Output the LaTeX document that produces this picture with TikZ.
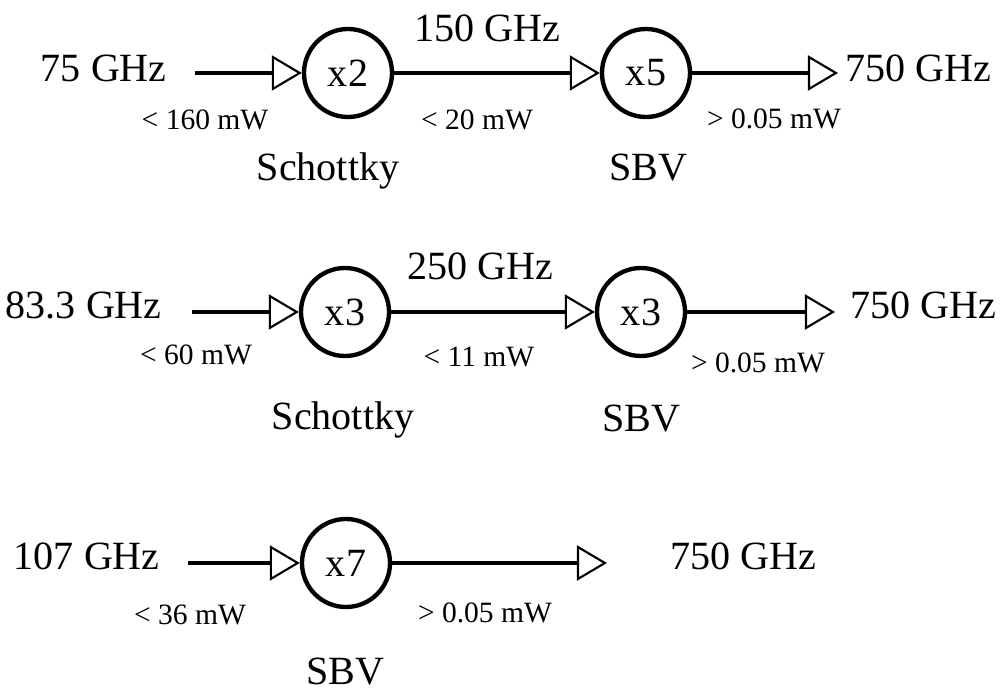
\documentclass[tikz,border=0pt]{standalone}
\usepackage{fontspec}
\setmainfont{Liberation Serif}
\usetikzlibrary{arrows.meta, positioning}
\tikzset{
  mult/.style={circle, draw, line width=3.1pt, minimum size=2.2cm, inner sep=0pt, font=\fontsize{28.5}{34}\selectfont},
  big/.style={font=\fontsize{28.5}{34}\selectfont, inner sep=0pt, anchor=base},
  small/.style={font=\fontsize{21}{25}\selectfont, inner sep=0pt, anchor=base},
  feed/.style={line width=3.1pt, -{Triangle[open, length=0.75cm, width=0.875cm, line width=1.5pt]}},
}

\begin{document}
\begin{tikzpicture}[x=0.025cm, y=-0.025cm]
    \useasboundingbox (0,0) rectangle (1008,694);

    % 75 GHz chain
    \node[big, anchor=base east] (in1) at (167,82) {75 GHz};
    \coordinate (s1) at (195,73);
    \node[mult] (a1) at (348,73) {x2};
    \node[mult] (b1) at (646,73) {x5};
    \coordinate (e1) at (838,73);
    \node[big, anchor=base west] (out1) at (845,82) {750 GHz};
    \draw[feed] (s1) -- (a1);
    \draw[feed] (a1) -- (b1);
    \draw[feed] (b1) -- (e1);
    \node[big] (mid1) at (487,42) {150 GHz};
    \node[small] (p1a) at (205,130) {< 160 mW};
    \node[small] (p1b) at (477,130) {< 20 mW};
    \node[small] (p1c) at (774,129) {> 0.05 mW};
    \node[big] (d1a) at (328,181) {Schottky};
    \node[big] (d1b) at (648,181) {SBV};

    % 83.3 GHz chain
    \node[big, anchor=base east] (in2) at (162,319) {83.3 GHz};
    \coordinate (s2) at (192,312);
    \node[mult] (a2) at (345,312) {x3};
    \node[mult] (b2) at (641,312) {x3};
    \coordinate (e2) at (835,312);
    \node[big, anchor=base west] (out2) at (850,319) {750 GHz};
    \draw[feed] (s2) -- (a2);
    \draw[feed] (a2) -- (b2);
    \draw[feed] (b2) -- (e2);
    \node[big] (mid2) at (480,280) {250 GHz};
    \node[small] (p2a) at (196,365) {< 60 mW};
    \node[small] (p2b) at (479,367) {< 11 mW};
    \node[small] (p2c) at (758,373) {> 0.05 mW};
    \node[big] (d2a) at (343,430) {Schottky};
    \node[big] (d2b) at (641,432) {SBV};

    % 107 GHz chain
    \node[big, anchor=base east] (in3) at (160,570) {107 GHz};
    \coordinate (s3) at (188,563);
    \node[mult] (a3) at (346,563) {x7};
    \coordinate (e3) at (607,563);
    \node[big, anchor=base west] (out3) at (670,570) {750 GHz};
    \draw[feed] (s3) -- (a3);
    \draw[feed] (a3) -- (e3);
    \node[small] (p3a) at (190,625) {< 36 mW};
    \node[small] (p3b) at (485,623) {> 0.05 mW};
    \node[big] (d3) at (345,685) {SBV};
\end{tikzpicture}
\end{document}
